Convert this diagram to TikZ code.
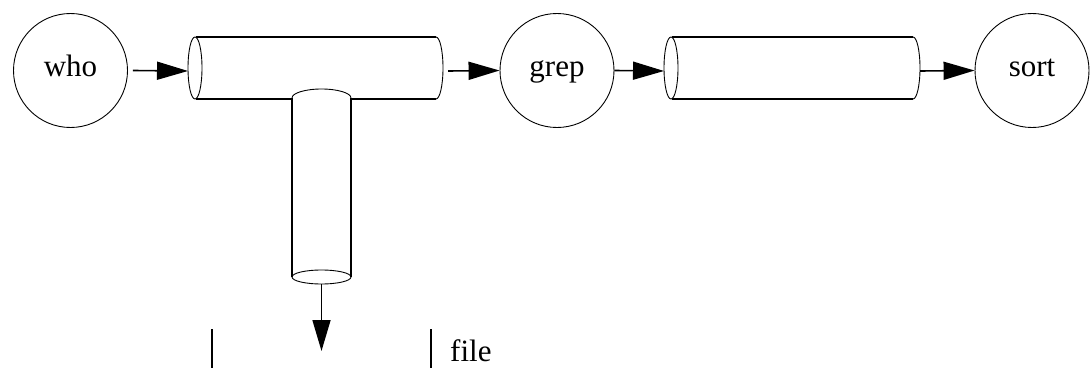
\documentclass[tikz,border=0pt]{standalone}
\usepackage{fontspec}
\setmainfont{Liberation Serif}
\usetikzlibrary{arrows.meta}
\begin{document}
\begin{tikzpicture}[x=1pt,y=-1pt,
  proc/.style={circle, draw, line width=0.9pt, minimum size=114pt, inner sep=0pt, text height=20pt, text depth=7pt, font=\fontsize{31}{36}\selectfont},
  pipe/.style={line width=1.6pt},
  rim/.style={line width=0.9pt},
  flow/.style={line width=1.6pt, -{Triangle[length=31pt,width=18pt]}},
  bar/.style={line width=1.6pt},
  lbl/.style={font=\fontsize{31}{36}\selectfont, inner sep=0pt}]
\useasboundingbox (0,0) rectangle (1091,369);
% processes
\node[proc] (who) at (70.5,70.5) {who};
\node[proc] (grep) at (557,70.5) {grep};
\node[proc] (sort) at (1032,70.5) {sort};
% pipe 1 (tee)
\draw[pipe] (196,37) -- (436,37);
\draw[pipe] (196,99) -- (292,99);
\draw[pipe] (351,99) -- (436,99);
\draw[rim] (195,68) ellipse[x radius=7, y radius=31];
\draw[rim] (436,37) arc[start angle=-90, end angle=90, x radius=7, y radius=31];
% stem
\draw[rim] (292,98) arc[start angle=180, end angle=360, x radius=29.5, y radius=9];
\draw[pipe] (292,98) -- (292,277);
\draw[pipe] (351,98) -- (351,277);
\draw[rim] (321.5,277) ellipse[x radius=29.5, y radius=7];
% pipe 2
\draw[pipe] (672,37) -- (913,37);
\draw[pipe] (672,99) -- (913,99);
\draw[rim] (671,68) ellipse[x radius=7, y radius=31];
\draw[rim] (913,37) arc[start angle=-90, end angle=90, x radius=7, y radius=31];
% connector ends
\coordinate (p1in) at (188,71);
\coordinate (p1out) at (443,71);
\coordinate (p2in) at (664,71);
\coordinate (p2out) at (920,71);
\coordinate (stemout) at (321.5,284);
\coordinate (filein) at (321.5,351);
\draw[flow] (who.east) ++(5,0) coordinate (whoout) -- (p1in);
\draw[flow] (p1out) ++(5,0) -- (grep.west);
\draw[flow] (grep.east) -- (p2in);
\draw[flow] (p2out) -- (sort.west);
\draw[flow] (stemout) -- (filein);
% file
\draw[bar] (212,329) -- (212,368);
\draw[bar] (431,329) -- (431,368);
\node[lbl, anchor=base west] (file) at (450,361) {file};
\end{tikzpicture}
\end{document}
